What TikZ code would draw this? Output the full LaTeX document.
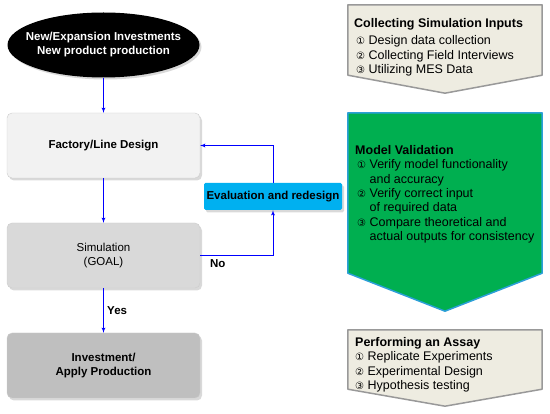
\documentclass[tikz,border=0pt]{standalone}
\usepackage{fontspec}
\setmainfont{Liberation Sans}
\newfontfamily\circfont{DejaVu Sans}
\usetikzlibrary{shapes.geometric, arrows, shadows, calc}

\definecolor{designgray}{HTML}{F2F2F2}
\definecolor{simgray}{HTML}{D9D9D9}
\definecolor{investgray}{HTML}{BFBFBF}
\definecolor{evalcyan}{HTML}{00B0F0}
\definecolor{panelbeige}{HTML}{EEECE1}
\definecolor{panelgreen}{HTML}{00AF50}
\definecolor{panelblue}{HTML}{2C9FD8}

\newcommand{\boxfont}{\fontsize{11.5}{14}\selectfont}
\newcommand{\itemfont}{\fontsize{12.5}{14.4}\selectfont}
\newcommand{\titlefont}{\fontsize{12.5}{14.4}\selectfont\bfseries}
\newcommand{\cnum}[1]{{\circfont\fontsize{10}{12}\selectfont #1}}
\newcommand{\cindent}{\hspace*{2pt}\hphantom{\cnum{①} }}

\begin{document}
\begin{tikzpicture}[x=1pt, y=1pt, node distance=110pt, >=latex']
  \tikzstyle{block} = [draw=black!20, rounded corners=5pt, minimum width=193pt, minimum height=65pt, align=center, font=\boxfont, drop shadow={opacity=0.3, shadow xshift=2pt, shadow yshift=-2.5pt}]
  \tikzstyle{start} = [ellipse, fill=black, text=white, font=\boxfont\bfseries, align=center, minimum width=192pt, minimum height=65pt, inner xsep=-12pt, inner ysep=0pt, drop shadow={opacity=0.3, shadow xshift=2pt, shadow yshift=-2pt}]
  \tikzstyle{flow} = [draw=blue, line width=0.8pt, ->]
  \tikzstyle{panel} = [rectangle, minimum width=194pt, inner sep=0pt]
  \tikzstyle{beige} = [draw=black!40, line width=1.5pt, fill=panelbeige, line join=round]
  \tikzstyle{green} = [draw=panelblue, line width=1.5pt, fill=panelgreen, line join=round]
  \tikzstyle{paneltext} = [anchor=north west, inner sep=0pt, align=left, font=\itemfont]
  \useasboundingbox (0,0) rectangle (550,-414);

  \node [start] (start) at (103.5,-45) {New/Expansion Investments\\New product production};
  \node [block, fill=designgray, font=\boxfont\bfseries] (design) at (103.5,-145.5) {Factory/Line Design};
  \node [block, fill=simgray, below of=design] (sim) {Simulation\\(GOAL)};
  \node [block, fill=investgray, below of=sim, font=\boxfont\bfseries] (invest) {Investment/\\Apply Production};
  \node [block, fill=evalcyan, draw=none, rounded corners=1.5pt, minimum width=138pt, minimum height=27pt, inner xsep=1pt, font=\boxfont\bfseries] (eval) at (273,-196.5) {Evaluation and redesign};

  \draw [flow] (start) -- (design);
  \draw [flow] (design) -- (sim);
  \draw [flow] (sim) -- node [right, font=\boxfont\bfseries] {Yes} (invest);
  \draw [flow] (sim.east) -| node [pos=0.12, below, font=\boxfont\bfseries] {No} (eval.south);
  \draw [flow] (eval.north) |- (design.east);

  \node [panel, minimum height=70pt] (inputs) at (445,-40) {};
  \draw [beige] (inputs.north west) -- (inputs.north east) -- (inputs.south east) -- ($(inputs.south)+(0,-18)$) -- (inputs.south west) -- cycle;
  \node [paneltext] (inputs-text) at (354,-18) {{\titlefont Collecting Simulation Inputs}\\[3pt]
    \hspace*{2pt}\cnum{①} Design data collection\\
    \hspace*{2pt}\cnum{②} Collecting Field Interviews\\
    \hspace*{2pt}\cnum{③} Utilizing MES Data};

  \node [panel, minimum height=160pt] (valid) at (445,-193) {};
  \draw [green] (valid.north west) -- (valid.north east) -- (valid.south east) -- ($(valid.south)+(0,-38)$) -- (valid.south west) -- cycle;
  \node [paneltext] (valid-text) at (355,-145) {{\titlefont Model Validation}\\
    \hspace*{2pt}\cnum{①} Verify model functionality\\
    \cindent and accuracy\\
    \hspace*{2pt}\cnum{②} Verify correct input\\
    \cindent of required data\\
    \hspace*{2pt}\cnum{③} Compare theoretical and\\
    \cindent actual outputs for consistency};

  \node [panel, minimum height=59pt] (assay) at (445,-359.5) {};
  \draw [beige] (assay.north west) -- (assay.north east) -- (assay.south east) -- ($(assay.south)+(0,-17)$) -- (assay.south west) -- cycle;
  \node [paneltext] (assay-text) at (355,-337) {{\titlefont Performing an Assay}\\
    \cnum{①} Replicate Experiments\\
    \cnum{②} Experimental Design\\
    \cnum{③} Hypothesis testing};
\end{tikzpicture}
\end{document}
